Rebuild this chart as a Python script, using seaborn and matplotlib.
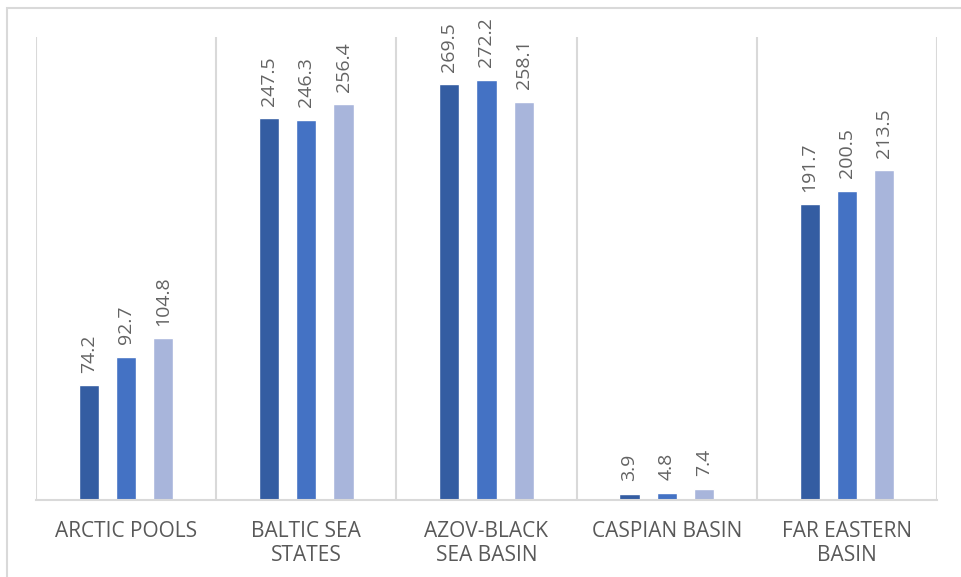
import pandas as pd
import matplotlib.pyplot as plt
import numpy as np
import seaborn as sns
from matplotlib.patches import Rectangle

# data
regions = ["ARCTIC POOLS", "BALTIC SEA\nSTATES", "AZOV-BLACK\nSEA BASIN", "CASPIAN BASIN", "FAR EASTERN\nBASIN"]
series = ["Series 1", "Series 2", "Series 3"]
values_1 = [74.2, 247.5, 269.5, 3.9, 191.7]
values_2 = [92.7, 246.3, 272.2, 4.8, 200.5]
values_3 = [104.8, 256.4, 258.1, 7.4, 213.5]
colors = ["#345DA2", "#4472C4", "#A8B5DB"]


def draw_plot():
    sns.set_theme(style="white")
    plt.rcParams['font.family'] = ['Open Sans', 'DejaVu Sans']

    data = pd.DataFrame({
        "region": regions * 3,
        "series": [series[0]] * 5 + [series[1]] * 5 + [series[2]] * 5,
        "value": values_1 + values_2 + values_3,
    })

    fig = plt.figure(figsize=(9.62, 5.77), dpi=100)
    ax = fig.add_axes([36 / 962, 77 / 577, 901 / 962, 463 / 577])

    sns.barplot(data=data, x="region", y="value", hue="series", palette=colors,
                width=0.62, gap=0.46, legend=False, ax=ax, saturation=1)

    # value labels above the bars
    for cont in ax.containers:
        ax.bar_label(cont, fmt="%.1f", rotation=90, padding=9, fontsize=14, color="#636363")

    ax.set_ylim(0, 300)
    ax.set_xlim(-0.5, 4.5)
    ax.set_yticks([])
    ax.set_xlabel("")
    ax.set_ylabel("")

    # category separators like excel
    ax.set_xticks(np.arange(-0.5, 5, 1), minor=True)
    ax.grid(axis="x", which="minor", color="#D9D9D9", linewidth=1.5)
    ax.grid(axis="x", which="major", visible=False)
    ax.tick_params(axis="x", which="both", length=0, pad=15, labelsize=15, labelcolor="#595959")

    for side in ["top", "left", "right"]:
        ax.spines[side].set_visible(False)
    ax.spines["bottom"].set_color("#D9D9D9")
    ax.spines["bottom"].set_linewidth(1.5)

    # outer chart border
    fig.patches.append(Rectangle((7 / 962, -0.2), 1.2, 1.2 - 8 / 577,
                                 transform=fig.transFigure, fill=False,
                                 edgecolor="#D9D9D9", linewidth=1.5))

    fig.savefig("out.png", dpi=100)


if __name__ == "__main__":
    draw_plot()
